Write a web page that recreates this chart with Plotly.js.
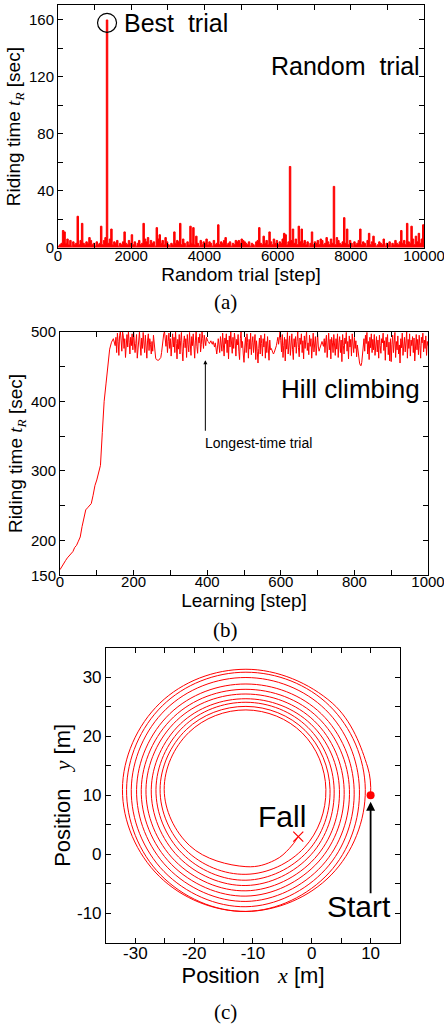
<!DOCTYPE html>
<html><head><meta charset="utf-8">
<script src="https://cdn.plot.ly/plotly-3.0.1.min.js"></script>
<style>html,body{margin:0;padding:0;background:#fff;}#chart{width:444px;height:1028px;}</style>
</head><body><div id="chart"></div>
<script>
// (a) Random trial: riding time every 40 steps
const randomStep = 40;
const randomTimes = [
 1,2,3,12,11,3,6,2,5,1,4,2,3,22,2,5,17,3,2,4,3,7,5,2,3,
 1,4,2,3,15,2,5,7,160,3,6,13,2,4,3,5,1,3,2,4,11,3,2,5,3,
 9,2,4,1,3,5,2,3,17,6,4,7,2,5,3,4,1,14,6,9,3,5,2,7,4,
 2,1,3,2,11,3,5,4,17,2,6,3,1,4,2,15,3,14,2,8,3,1,5,2,4,
 3,6,2,4,3,1,5,2,3,16,2,4,3,5,7,2,3,4,1,3,2,5,4,5,3,
 6,5,4,3,2,4,1,3,2,1,4,5,14,3,2,8,3,5,2,11,4,2,6,3,5,
 2,4,3,6,10,9,2,4,57,5,13,3,6,2,15,4,13,3,5,2,4,1,3,11,2,
 4,3,5,2,6,5,2,3,7,4,2,6,3,43,2,7,5,3,2,4,21,3,13,2,5,
 3,1,4,2,3,5,13,2,4,3,1,5,10,2,4,8,3,1,2,4,3,2,6,1,3,
 2,4,1,3,2,5,3,2,4,12,3,5,2,17,4,3,15,6,2,8,4,10,3,6,16,2
];
const bestTrialX = [1340];
const bestTrialY = [158];

// (b) Hill climbing: rising part every 5 steps (0-145), then every 2 steps (150-1000)
const hillRiseStep = 5;
const hillRiseTimes = [158,163,167,171,175,178,181,184,190,193,199,205,220,235,244,247,250,253,265,279,287,300,308,355,400,425,455,475,485,490];
const hillPlateauStart = 150;
const hillPlateauStep = 2;
const hillPlateauTimes = [
 480,492,470,498,486,466,495,500,488,472,500,494,476,490,463,481,496,478,500,485,468,492,480,497,474,
 500,489,470,483,496,462,478,494,500,481,466,491,476,499,487,470,495,479,462,488,497,473,490,482,468,
 486,472,495,480,466,462,460,459,459,459,460,461,463,470,482,493,497,500,488,479,495,470,486,498,476,
 490,465,484,497,478,492,470,500,483,461,489,475,496,468,487,499,472,458,485,494,477,490,463,496,482,
 471,499,486,466,493,480,497,474,462,488,500,479,469,492,484,497,471,482,500,490,476,495,487,480,492,
 488,486,485,483,485,487,484,482,486,480,478,484,475,468,478,490,481,470,493,486,472,498,479,465,491,
 483,497,470,488,461,494,478,500,485,469,492,476,498,488,465,489,481,496,472,460,490,500,477,486,468,
 456,478,492,470,497,485,462,489,475,498,467,484,493,470,481,496,460,487,472,455,476,491,468,495,483,
 465,490,478,497,462,486,470,493,481,459,488,474,476,472,470,468,470,473,476,480,486,492,482,495,500,
 487,471,496,463,480,492,458,489,475,499,468,485,494,466,483,497,474,460,490,478,493,469,486,500,477,
 464,491,482,497,470,487,461,494,476,489,500,473,484,467,495,479,490,462,486,498,471,482,493,466,488,
 497,478,472,476,480,484,486,482,479,490,470,487,495,463,481,498,474,489,461,492,485,470,496,479,466,
 490,475,497,463,484,493,470,488,457,496,480,468,491,483,499,472,486,461,494,478,489,465,497,481,470,
 492,476,487,464,481,470,458,455,452,451,456,466,478,490,472,495,483,499,468,486,460,492,477,497,470,
 489,474,496,466,483,493,471,488,462,495,480,469,490,484,498,473,487,459,492,478,496,467,485,458,490,
 457,482,495,470,488,499,463,486,474,494,468,481,455,490,477,498,466,487,492,471,484,500,462,489,476,
 497,465,488,480,493,470,491,458,485,496,474,489,467,495,480,462,492,484,498,471,488,476,494,466,486,
 480
];
const longestTrialStep = 395;
const longestTrialTime = 459;

// (c) Trajectory of the longest-time trial
const pathX = [10,9.5,3.47,-11.2,-25.84,-32.2,-25.94,-11.2,3.30,
 9.1,3.01,-11.2,-25.41,-31.5,-25.70,-11.2,2.94,
 8.1,2.34,-11.2,-24.81,-30.7,-25.13,-11.2,2.34,
 7.2,1.63,-11.2,-24.10,-29.8,-24.49,-11.2,1.74,
 6.4,1.03,-11.2,-23.50,-29.0,-23.89,-11.2,1.10,
 5.5,0.43,-11.2,-22.94,-28.2,-23.29,-11.2,0.50,
 4.7,-0.13,-11.2,-22.34,-27.3,-22.66,-11.2,-0.13,
 3.8,-0.66,-11.2,-21.84,-26.5,-22.05,-11.2,-0.70,
 3.1,-1.16,-11.2,-21.35,-25.8,-21.45,-11.2,-1.30,
 2.4,-1.62,-11.2,-20.89,-25.1,-20.75,-11.2,-6.3,-3.8,-2.3];
const pathY = [10,14.8,25.67,31.4,25.64,11,-3.74,-9.7,-3.50,
 11,25.21,30.9,25.21,11,-3.50,-9.7,-3.14,
 11,24.54,30.0,24.61,11,-2.93,-8.9,-2.54,
 11,23.83,28.9,23.90,11,-2.29,-8.0,-1.94,
 11,23.23,28.0,23.30,11,-1.69,-7.1,-1.30,
 11,22.63,27.2,22.74,11,-1.09,-6.2,-0.70,
 11,22.07,26.4,22.14,11,-0.46,-5.3,-0.07,
 11,21.54,25.8,21.64,11,0.15,-4.4,0.50,
 11,21.04,25.1,21.15,11,0.75,-3.4,1.10,
 11,20.58,24.5,20.69,11,1.45,-2.1,-1.0,1.0,3.0];
const startX = [10], startY = [10];
const fallX = [-2.3], fallY = [3.0];

const randomX = randomTimes.map((_, i) => i * randomStep);
const hillX = hillRiseTimes.map((_, i) => i * hillRiseStep)
  .concat(hillPlateauTimes.map((_, i) => hillPlateauStart + i * hillPlateauStep));
const hillTimes = hillRiseTimes.concat(hillPlateauTimes);

const RED = '#ff0000';
const SANS = 'Liberation Sans, Arial, sans-serif';
const SERIF = 'Liberation Serif, Times New Roman, serif';
const tR = '<span style="font-family:' + SERIF + '"><i>t</i><sub><i>R</i></sub></span>';

const traces = [
  {x: randomX, y: randomTimes, xaxis: 'x', yaxis: 'y', type: 'scatter', mode: 'lines',
   line: {color: RED, width: 1, shape: 'hv'}, fill: 'tozeroy', fillcolor: RED, hoverinfo: 'none'},
  {x: bestTrialX, y: bestTrialY, xaxis: 'x', yaxis: 'y', type: 'scatter', mode: 'markers',
   marker: {symbol: 'circle-open', size: 19, color: '#000', line: {width: 1.2, color: '#000'}}},
  {x: hillX, y: hillTimes, xaxis: 'x2', yaxis: 'y2', type: 'scatter', mode: 'lines',
   line: {color: RED, width: 1}},
  {x: pathX, y: pathY, xaxis: 'x3', yaxis: 'y3', type: 'scatter', mode: 'lines',
   line: {color: RED, width: 1, shape: 'spline', smoothing: 1.1}},
  {x: startX, y: startY, xaxis: 'x3', yaxis: 'y3', type: 'scatter', mode: 'markers',
   marker: {symbol: 'circle', size: 8, color: RED}},
  {x: fallX, y: fallY, xaxis: 'x3', yaxis: 'y3', type: 'scatter', mode: 'markers',
   marker: {symbol: 'x-thin-open', size: 10, color: RED, line: {width: 1.2, color: RED}}}
];

function ax(extra) {
  return Object.assign({
    showline: true, linecolor: '#000', linewidth: 1, mirror: 'allticks',
    ticks: 'inside', ticklen: 5, tickwidth: 1, tickcolor: '#000',
    showgrid: false, zeroline: false, fixedrange: true, ticklabeloverflow: 'allow',
    tickfont: {family: SANS, size: 15, color: '#000'}
  }, extra);
}

const layout = {
  width: 444, height: 1028,
  margin: {l: 0, r: 0, t: 0, b: 0},
  paper_bgcolor: '#fff', plot_bgcolor: '#fff',
  showlegend: false,
  font: {family: SANS, color: '#000'},
  xaxis: ax({domain: [0.1306, 0.9550], anchor: 'y', range: [0, 10000], ticklabelstandoff: -6,
    tickvals: [0,1000,2000,3000,4000,5000,6000,7000,8000,9000,10000],
    ticktext: ['0','','2000','','4000','','6000','','8000','','10000'],
    title: {text: 'Random trial [step]', font: {size: 19}, standoff: 0}}),
  yaxis: ax({domain: [0.7585, 0.9951], anchor: 'x', range: [-0.5, 170.5],
    tickvals: [0,20,40,60,80,100,120,140,160],
    ticktext: ['0','','40','','80','','120','','160'],
    title: {text: 'Riding time ' + tR + ' [sec]', font: {size: 19}, standoff: 3}}),
  xaxis2: ax({domain: [0.1351, 0.9640], anchor: 'y2', range: [0, 1000], ticklabelstandoff: -7,
    tickvals: [0,100,200,300,400,500,600,700,800,900,1000],
    ticktext: ['0','','200','','400','','600','','800','','1000'],
    title: {text: 'Learning [step]', font: {size: 19}, standoff: 0}}),
  yaxis2: ax({domain: [0.4404, 0.6773], anchor: 'x2', range: [150, 500],
    tickvals: [150,200,250,300,350,400,450,500],
    ticktext: ['150','200','','300','','400','','500'],
    title: {text: 'Riding time ' + tR + ' [sec]', font: {size: 19}, standoff: 3}}),
  xaxis3: ax({domain: [0.2387, 0.9009], anchor: 'y3', range: [-35, 15], ticklabelstandoff: -5,
    tickvals: [-35,-30,-25,-20,-15,-10,-5,0,5,10,15],
    ticktext: ['','-30','','-20','','-10','','0','','10',''],
    tickfont: {family: SANS, size: 17, color: '#000'},
    title: {text: 'Position\u00a0\u00a0 <span style="font-family:' + SERIF + '"><i>x</i></span> [m]', font: {size: 22}, standoff: 0}}),
  yaxis3: ax({domain: [0.0830, 0.3696], anchor: 'x3', range: [-15, 35],
    tickvals: [-15,-10,-5,0,5,10,15,20,25,30,35],
    ticktext: ['','-10','','0','','10','','20','','30',''],
    tickfont: {family: SANS, size: 17, color: '#000'},
    title: {text: 'Position\u00a0\u00a0 <span style="font-family:' + SERIF + '"><i>y</i></span> [m]', font: {size: 22}, standoff: 0}}),
  annotations: [
    {xref: 'x', yref: 'y', x: 1750, y: 158, xanchor: 'left', yanchor: 'middle', showarrow: false,
     text: 'Best\u00a0 trial', font: {size: 25}},
    {xref: 'x', yref: 'y', x: 9945, y: 127.6, xanchor: 'right', yanchor: 'middle', showarrow: false,
     text: 'Random\u00a0 trial', font: {size: 25}},
    {xref: 'x2', yref: 'y2', x: 984, y: 417, xanchor: 'right', yanchor: 'middle', showarrow: false,
     text: 'Hill climbing', font: {size: 26}},
    {xref: 'x2', yref: 'y2', x: 389, y: 340.5, xanchor: 'left', yanchor: 'middle', showarrow: false,
     text: 'Longest-time trial', font: {size: 14}},
    {xref: 'x2', yref: 'y2', x: longestTrialStep, y: longestTrialTime, ax: 0, ay: 72, text: '',
     showarrow: true, arrowhead: 2, arrowsize: 0.8, arrowwidth: 1, arrowcolor: '#000', standoff: 0},
    {xref: 'x3', yref: 'y3', x: -5.0, y: 6.4, xanchor: 'center', yanchor: 'middle', showarrow: false, text: 'Fall', font: {size: 30}},
    {xref: 'x3', yref: 'y3', x: 8.1, y: -8.8, xanchor: 'center', yanchor: 'middle', showarrow: false, text: 'Start', font: {size: 30}},
    {xref: 'x3', yref: 'y3', x: startX[0], y: 8.9, ax: 0, ay: 93, text: '',
     showarrow: true, arrowhead: 2, arrowsize: 1, arrowwidth: 1.8, arrowcolor: '#000', standoff: 0},
    {xref: 'paper', yref: 'paper', x: 0.507, y: 0.7062, xanchor: 'center', yanchor: 'middle', showarrow: false, text: '(a)',
     font: {family: SERIF, size: 21}},
    {xref: 'paper', yref: 'paper', x: 0.507, y: 0.3872, xanchor: 'center', yanchor: 'middle', showarrow: false, text: '(b)',
     font: {family: SERIF, size: 21}},
    {xref: 'paper', yref: 'paper', x: 0.507, y: 0.0151, xanchor: 'center', yanchor: 'middle', showarrow: false, text: '(c)',
     font: {family: SERIF, size: 21}}
  ]
};

Plotly.newPlot('chart', traces, layout, {displayModeBar: false, staticPlot: true});
</script>
</body></html>
